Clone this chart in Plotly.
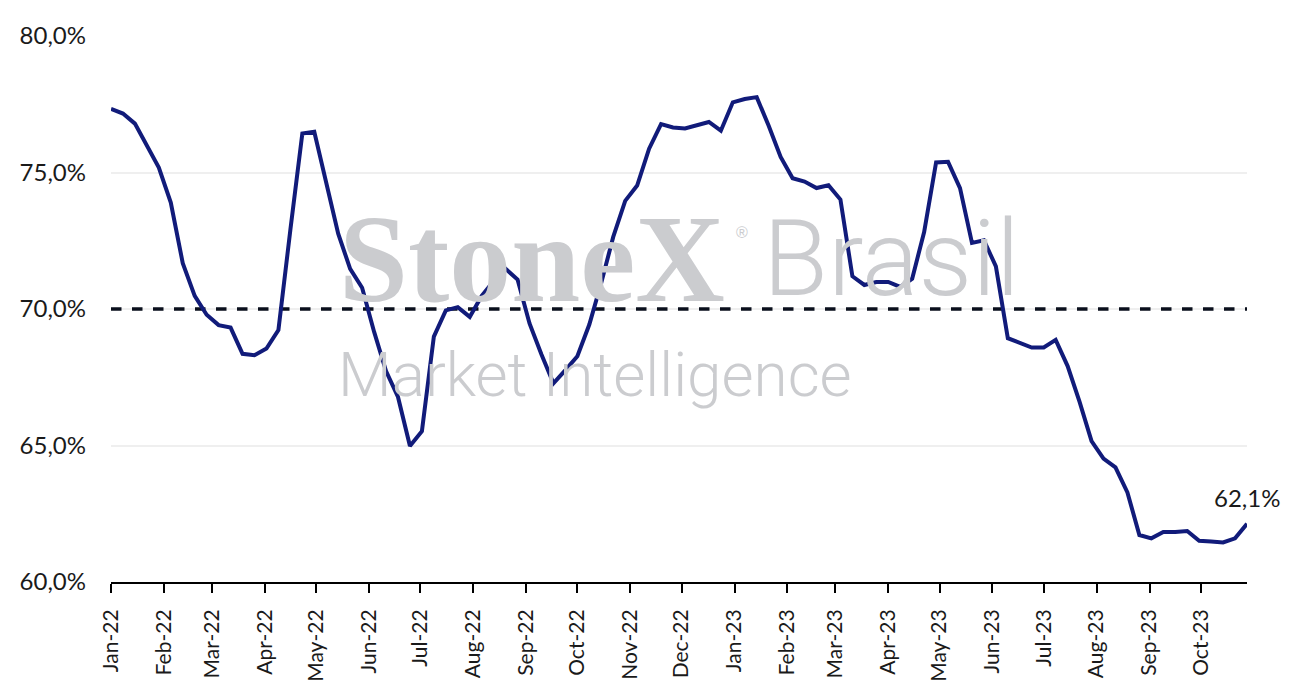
import pandas as pd
import plotly.graph_objects as go

start_date = "2022-01-01"
values = [
    77.33, 77.16, 76.79, 75.99, 75.18, 73.90, 71.68, 70.48, 69.79, 69.41,
    69.32, 68.36, 68.31, 68.55, 69.23, 72.90, 76.43, 76.49, 74.62, 72.76,
    71.47, 70.78, 69.17, 67.73, 66.78, 64.98, 65.52, 68.99, 69.95, 70.07,
    69.71, 70.48, 71.02, 71.47, 71.08, 69.47, 68.33, 67.28, 67.76, 68.27,
    69.43, 70.96, 72.64, 73.96, 74.52, 75.87, 76.77, 76.65, 76.61, 76.73,
    76.85, 76.53, 77.57, 77.69, 77.76, 76.71, 75.57, 74.79, 74.67, 74.43,
    74.53, 74.01, 71.20, 70.88, 70.99, 70.99, 70.81, 71.11, 72.82, 75.37,
    75.39, 74.43, 72.42, 72.52, 71.56, 68.93, 68.75, 68.59, 68.59, 68.87,
    67.91, 66.60, 65.16, 64.52, 64.20, 63.28, 61.72, 61.60, 61.83, 61.83,
    61.87, 61.51, 61.48, 61.45, 61.60, 62.13,
]
dates = pd.date_range(start_date, periods=len(values), freq="7D")
reference_level = 70.0
last_label = "62,1%"

y_ticks = [60, 65, 70, 75, 80]
y_ticktext = ["60,0%", "65,0%", "70,0%", "75,0%", "80,0%"]
month_ticks = pd.date_range("2022-01-01", "2023-10-01", freq="MS")
month_labels = [d.strftime("%b-%y") for d in month_ticks]

fig = go.Figure()
fig.add_trace(go.Scatter(
    x=dates, y=[reference_level] * len(dates), mode="lines",
    line=dict(color="#0A0F1C", width=3.5, dash="dash"),
    hoverinfo="skip", showlegend=False,
))
fig.add_trace(go.Scatter(
    x=dates, y=values, mode="lines",
    line=dict(color="#111B7A", width=4),
    showlegend=False,
))

wm = "#CBCCCF"
fig.add_annotation(xref="paper", yref="paper", x=0.199, y=0.590, xanchor="left",
                   yanchor="middle", text="<b>StoneX</b>", showarrow=False,
                   font=dict(family="Liberation Serif", size=124, color=wm))
fig.add_annotation(xref="paper", yref="paper", x=0.548, y=0.640, xanchor="left",
                   yanchor="middle", text="®", showarrow=False,
                   font=dict(family="Liberation Sans", size=16, color=wm))
fig.add_annotation(xref="paper", yref="paper", x=0.572, y=0.592, xanchor="left",
                   yanchor="middle", text="Brasil", showarrow=False,
                   font=dict(family="Roboto", size=106, color=wm, weight=300))
fig.add_annotation(xref="paper", yref="paper", x=0.198, y=0.380, xanchor="left",
                   yanchor="middle", text="Market Intelligence", showarrow=False,
                   font=dict(family="Roboto", size=62, color=wm, weight=300))

fig.add_annotation(x=dates[-1], y=values[-1], text=last_label, showarrow=False,
                   xanchor="center", yanchor="bottom", yshift=10,
                   font=dict(family="Lato", size=24, color="#1a1a1a"))

fig.update_layout(
    width=1291, height=699,
    margin=dict(l=102, r=52, t=17, b=125),
    paper_bgcolor="white", plot_bgcolor="white",
    font=dict(family="Lato", color="#1a1a1a"),
    separators=",.",
)
fig.update_xaxes(
    type="date", range=[dates[0], dates[-1]],
    tickvals=month_ticks, ticktext=month_labels, tickangle=-90,
    tickfont=dict(size=21, color="#1a1a1a"),
    showgrid=False, showline=True, linecolor="black", linewidth=2,
    ticks="outside", ticklen=9, tickwidth=2, tickcolor="black",
    ticklabelstandoff=8,
)
fig.update_yaxes(
    range=[60, 80], tickvals=y_ticks, ticktext=y_ticktext,
    tickfont=dict(size=24, color="#1a1a1a"),
    showgrid=True, gridcolor="#EFEFEF", gridwidth=1.5,
    zeroline=False, showline=False, ticks="", ticklabelstandoff=24,
)

fig.write_html("out.html")
